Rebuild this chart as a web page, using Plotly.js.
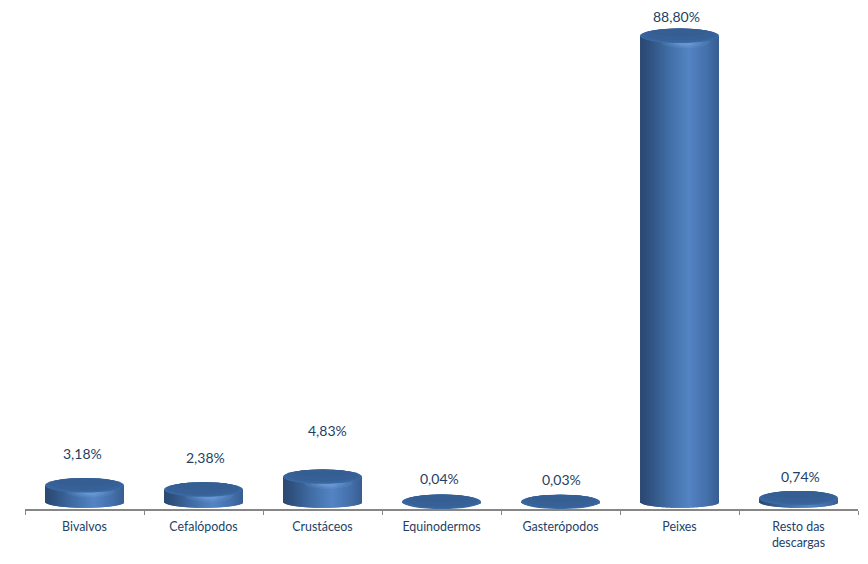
<!DOCTYPE html>
<html>
<head>
<meta charset="utf-8">
<script src="https://cdn.plot.ly/plotly-3.0.0.min.js"></script>
<style>html,body{margin:0;padding:0;background:#fff}#chart{width:868px;height:564px}</style>
</head>
<body>
<div id="chart"></div>
<script>
// Data
var categories = ["Bivalvos","Cefalópodos","Crustáceos","Equinodermos","Gasterópodos","Peixes","Resto das<br>descargas"];
var values = [3.18,2.38,4.83,0.04,0.03,88.80,0.74];
var valueLabels = ["3,18%","2,38%","4,83%","0,04%","0,03%","88,80%","0,74%"];

// Label placement (pixels from the top of each column)
var labelShiftY = [31.5,32.5,46.5,23.5,22.5,19.5,21.5];
var labelShiftX = [-2,2,5,-2,1,-3,2];

// Geometry / style
var W = 868, H = 564, L = 24.5, R = 10, axisY = 509;
var pxPerUnit = 5.25, basePx = 502;
var catPx = (W - L - R) / categories.length;
var colW = 79 / catPx;
var topB = 7.2 / pxPerUnit, botB = 5.8 / pxPerUnit;
var yMin = -(axisY - basePx) / pxPerUnit, yMax = basePx / pxPerUnit;
var stops = [[0,[42,72,114]],[0.12,[48,82,128]],[0.35,[64,108,164]],[0.62,[84,132,196]],[0.85,[68,112,170]],[1,[56,94,146]]];
function ramp(t){
  for (var i=1;i<stops.length;i++){
    if (t<=stops[i][0]){
      var a=stops[i-1],b=stops[i],f=(t-a[0])/(b[0]-a[0]);
      var c=[0,1,2].map(function(k){return Math.round(a[1][k]+(b[1][k]-a[1][k])*f);});
      return 'rgb('+c.join(',')+')';
    }
  }
  return 'rgb(56,94,146)';
}

var N = 79, traces = [];
for (var s=0;s<N;s++){
  var u0 = s/N, uc = (s+0.5)/N;
  var u = 2*uc-1;
  var curve = botB*Math.sqrt(Math.max(0,1-u*u));
  traces.push({
    type:'bar',
    x:categories,
    y:values.map(function(v){return v+curve;}),
    base:values.map(function(){return -curve;}),
    width:colW/N*(s===N-1?1:2),
    offset:-colW/2+u0*colW,
    marker:{color:ramp(uc),line:{width:0}},
    hoverinfo:'skip',
    showlegend:false
  });
}

var shapes = [];
var glow = [[1,'rgba(120,165,225,0.16)'],[0.75,'rgba(125,170,230,0.2)'],[0.5,'rgba(135,180,235,0.24)']];
var capLayers = [[1,'#3c6aa5'],[0.93,'#38649c'],[0.8,'#366096'],[0.5,'#355e93']];
values.forEach(function(v,i){
  var top = v+topB, h = 2*topB, a = colW/2;
  if (v > 1.5) {
    glow.forEach(function(g){
      var gx = i+0.07*colW, gr = a*0.62*g[0];
      shapes.push({type:'circle',xref:'x',yref:'y',layer:'above',
        x0:gx-gr,x1:gx+gr,y0:v-topB-1.0*g[0],y1:v+0.2,fillcolor:g[1],line:{width:0}});
    });
  }
  capLayers.forEach(function(cl){
    var ra = a*Math.sqrt(cl[0]);
    shapes.push({type:'circle',xref:'x',yref:'y',layer:'above',
      x0:i-ra,x1:i+ra,y0:top-h*cl[0],y1:top,
      fillcolor:cl[1],line:{width:0}});
  });
});

var annotations = values.map(function(v,i){
  return {x:categories[i],y:v,xref:'x',yref:'y',text:valueLabels[i],showarrow:false,
    xanchor:'center',yanchor:'middle',yshift:labelShiftY[i],xshift:labelShiftX[i],
    font:{family:'Lato, sans-serif',size:14,color:'#243f66'}};
});

Plotly.newPlot('chart',traces,{
  width:W,height:H,
  margin:{l:L,r:R,t:0,b:H-axisY,pad:0},
  paper_bgcolor:'#fff',plot_bgcolor:'#fff',
  barmode:'overlay',
  showlegend:false,
  xaxis:{type:'category',range:[-0.5,categories.length-0.5],tickson:'boundaries',ticks:'outside',
    ticklen:4,tickwidth:1,tickcolor:'#868686',showline:true,linecolor:'#868686',linewidth:2,
    showgrid:false,zeroline:false,fixedrange:true,tickangle:0,ticklabelstandoff:5,
    tickfont:{family:'Lato, sans-serif',size:12.4,color:'#243f66'}},
  yaxis:{range:[yMin,yMax],visible:false,showgrid:false,zeroline:false,fixedrange:true},
  shapes:shapes,
  annotations:annotations
},{displayModeBar:false,staticPlot:true});
</script>
</body>
</html>
